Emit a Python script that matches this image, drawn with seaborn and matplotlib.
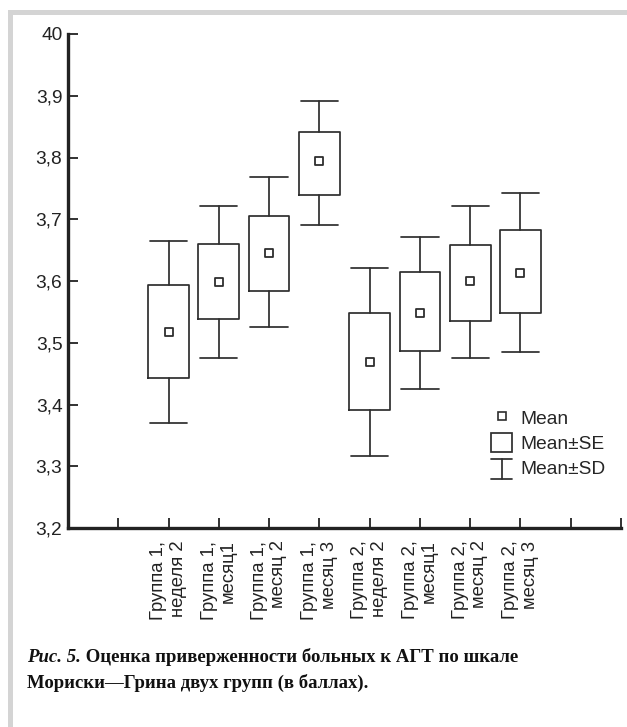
import numpy as np
import pandas as pd
import matplotlib
matplotlib.use("Agg")
import matplotlib.pyplot as plt
import seaborn as sns
from matplotlib.lines import Line2D
from matplotlib.patches import Patch, Rectangle
from matplotlib.legend_handler import HandlerBase

# ---- data ----
categories = ["Группа 1,\nнеделя 2", "Группа 1,\nмесяц1", "Группа 1,\nмесяц 2", "Группа 1,\nмесяц 3",
              "Группа 2,\nнеделя 2", "Группа 2,\nмесяц1", "Группа 2,\nмесяц 2", "Группа 2,\nмесяц 3"]
means = [3.518, 3.598, 3.645, 3.794, 3.469, 3.548, 3.600, 3.613]
se_lo = [3.443, 3.538, 3.583, 3.740, 3.391, 3.486, 3.536, 3.548]
se_hi = [3.594, 3.660, 3.706, 3.841, 3.548, 3.615, 3.658, 3.682]
sd_lo = [3.370, 3.476, 3.526, 3.691, 3.316, 3.425, 3.476, 3.485]
sd_hi = [3.664, 3.722, 3.768, 3.892, 3.621, 3.672, 3.722, 3.743]
ytick_values = [3.2, 3.3, 3.4, 3.5, 3.6, 3.7, 3.8, 3.9, 4.0]
ytick_labels = ["3,2", "3,3", "3,4", "3,5", "3,6", "3,7", "3,8", "3,9", "40"]
legend_labels = ["Mean", "Mean±SE", "Mean±SD"]
caption_head = "Рис. 5."
caption_body = " Оценка приверженности больных к АГТ по шкале"
caption_line2 = "Мориски—Грина двух групп (в баллах)."

positions = np.arange(len(categories)) + 2
df = pd.DataFrame({"pos": positions, "mean": means, "se_lo": se_lo, "se_hi": se_hi,
                   "sd_lo": sd_lo, "sd_hi": sd_hi, "label": categories})

sns.set_theme(style="ticks")
plt.rcParams["font.family"] = ["Liberation Sans", "DejaVu Sans"]

DARK = "#2e2e2e"
FS = 13.8
fig = plt.figure(figsize=(6.27, 7.27), dpi=100)
ax = fig.add_axes([68 / 627, 1 - 528 / 727, (621 - 68) / 627, (528 - 34) / 727])

stats = [dict(med=r["mean"], q1=r["se_lo"], q3=r["se_hi"], whislo=r["sd_lo"],
              whishi=r["sd_hi"], mean=r["mean"], fliers=[]) for _, r in df.iterrows()]
ax.bxp(stats, positions=df["pos"].tolist(), widths=0.81, capwidths=0.74,
       showfliers=False, showmeans=False, manage_ticks=False,
       boxprops=dict(color=DARK, linewidth=1.25),
       whiskerprops=dict(color=DARK, linewidth=1.25),
       capprops=dict(color=DARK, linewidth=1.25),
       medianprops=dict(linewidth=0))

sns.scatterplot(data=df, x="pos", y="mean", marker="s", s=32, color="white",
                edgecolor=DARK, linewidth=1.3, zorder=3, ax=ax, legend=False)

ax.set_xlim(0, 11)
ax.set_ylim(3.2, 4.0)
ax.set_xlabel("")
ax.set_ylabel("")
ax.set_yticks(ytick_values)
ax.set_yticklabels(ytick_labels, fontsize=FS)
xt = list(range(1, 12))
xl = [""] * len(xt)
for p, lab in zip(positions, categories):
    xl[xt.index(int(p))] = lab
ax.set_xticks(xt)
ax.set_xticklabels(xl, rotation=90, fontsize=13.3, multialignment="right", linespacing=1.2)
ax.tick_params(axis="both", direction="in", length=7, width=1.3, color="#222222", labelcolor="#222222")
ax.tick_params(axis="y", pad=4)
ax.tick_params(axis="x", pad=9)
for s in ["top", "right"]:
    ax.spines[s].set_visible(False)
for s in ["left", "bottom"]:
    ax.spines[s].set_linewidth(2.4)
    ax.spines[s].set_color("#222222")


class HandlerIBeam(HandlerBase):
    def create_artists(self, legend, orig_handle, xdescent, ydescent, width, height, fontsize, trans):
        x0, x1 = -xdescent, -xdescent + width
        xc = (x0 + x1) / 2
        y0, y1 = -ydescent - 0.15 * height, -ydescent + 0.95 * height
        arts = [Line2D([xc, xc], [y0, y1]), Line2D([x0, x1], [y0, y0]), Line2D([x0, x1], [y1, y1])]
        for a in arts:
            a.set_color(DARK)
            a.set_linewidth(1.25)
            a.set_transform(trans)
        return arts


h_mean = Line2D([], [], marker="s", linestyle="none", markerfacecolor="white",
                markeredgecolor=DARK, markersize=6, markeredgewidth=1.2)
h_se = Patch(facecolor="white", edgecolor=DARK, linewidth=1.25)
h_sd = Line2D([], [], color=DARK)
ax.legend([h_mean, h_se, h_sd], legend_labels, handler_map={h_sd: HandlerIBeam()},
          loc="upper left", bbox_to_anchor=(0.765, 0.243), frameon=False,
          fontsize=FS, handlelength=1.1, handleheight=1.15, handletextpad=0.45,
          labelspacing=0.25, borderpad=0, borderaxespad=0)

# light gray frame
fig.add_artist(Rectangle((8 / 627, 1 - 15 / 727), 1, 5 / 727, transform=fig.transFigure,
                         facecolor="#d4d4d4", edgecolor="none"))
fig.add_artist(Rectangle((8 / 627, 0), 5 / 627, 1 - 10 / 727, transform=fig.transFigure,
                         facecolor="#d4d4d4", edgecolor="none"))

# caption
cap_kw = dict(fontsize=13.5, color="#111111", va="baseline")
t1 = fig.text(27 / 627, 1 - 662 / 727, caption_head, family="Liberation Serif",
              fontweight="bold", fontstyle="italic", **cap_kw)
renderer = fig.canvas.get_renderer()
bb = t1.get_window_extent(renderer=renderer)
fig.text(bb.x1 / fig.bbox.width, 1 - 662 / 727, caption_body, family="Liberation Serif",
         fontweight="bold", **cap_kw)
fig.text(27 / 627, 1 - 688 / 727, caption_line2, family="Liberation Serif",
         fontweight="bold", **cap_kw)

fig.savefig("out.png", dpi=100)
